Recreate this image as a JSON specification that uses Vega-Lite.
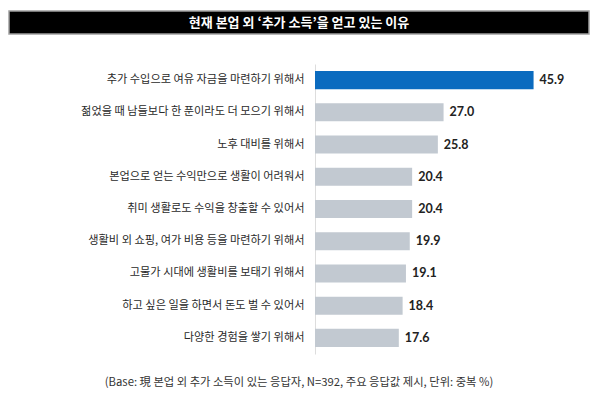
{
  "$schema": "https://vega.github.io/schema/vega-lite/v6.json",
  "padding": {"left": 8, "top": 10, "right": 5, "bottom": 5},
  "background": "white",
  "title": {
    "text": "(Base: 現 본업 외 추가 소득이 있는 응답자, N=392, 주요 응답값 제시, 단위: 중복 %)",
    "orient": "bottom",
    "anchor": "middle",
    "frame": "bounds",
    "font": "Noto Sans CJK KR",
    "fontSize": 11.3,
    "fontWeight": "normal",
    "color": "#333333",
    "offset": 23
  },
  "config": {"view": {"stroke": null}},
  "vconcat": [
    {
      "width": 580,
      "height": 23,
      "view": {"fill": "#000000", "stroke": "#a0a0a0", "strokeWidth": 1.5},
      "data": {"values": [{"t": "현재 본업 외 ‘추가 소득’을 얻고 있는 이유"}]},
      "mark": {"type": "text", "color": "white", "font": "Noto Sans CJK KR", "fontSize": 13, "fontWeight": "bold", "baseline": "middle", "align": "center"},
      "encoding": {"text": {"field": "t"}}
    },
    {
      "width": 580,
      "height": 290,
      "data": {"values": [
        {"reason": "추가 수입으로 여유 자금을 마련하기 위해서", "pct": 45.9, "group": "top"},
        {"reason": "젊었을 때 남들보다 한 푼이라도 더 모으기 위해서", "pct": 27.0, "group": "other"},
        {"reason": "노후 대비를 위해서", "pct": 25.8, "group": "other"},
        {"reason": "본업으로 얻는 수익만으로 생활이 어려워서", "pct": 20.4, "group": "other"},
        {"reason": "취미 생활로도 수익을 창출할 수 있어서", "pct": 20.4, "group": "other"},
        {"reason": "생활비 외 쇼핑, 여가 비용 등을 마련하기 위해서", "pct": 19.9, "group": "other"},
        {"reason": "고물가 시대에 생활비를 보태기 위해서", "pct": 19.1, "group": "other"},
        {"reason": "하고 싶은 일을 하면서 돈도 벌 수 있어서", "pct": 18.4, "group": "other"},
        {"reason": "다양한 경험을 쌓기 위해서", "pct": 17.6, "group": "other"}
      ]},
      "encoding": {
        "y": {
          "field": "reason", "type": "nominal", "sort": null,
          "scale": {"paddingInner": 0.44, "paddingOuter": 0.22},
          "axis": {
            "title": null, "ticks": false, "labelPadding": 11, "offset": -306,
            "labelFont": "Noto Sans CJK KR", "labelFontSize": 11.2, "labelColor": "#2a2a2a",
            "domainColor": "#dddddd", "domainWidth": 1,
            "labelLimit": 400
          }
        },
        "x": {
          "field": "pct", "type": "quantitative",
          "scale": {"domain": [-64.26, 57.54], "nice": false, "zero": false},
          "axis": null
        }
      },
      "layer": [
        {
          "mark": {"type": "bar"},
          "encoding": {
            "color": {
              "field": "group", "type": "nominal",
              "scale": {"domain": ["top", "other"], "range": ["#0b6bbf", "#c2c9d1"]},
              "legend": null
            }
          }
        },
        {
          "mark": {"type": "text", "align": "left", "baseline": "middle", "dx": 6, "font": "Lato", "fontWeight": "bold", "fontSize": 12.5, "color": "#222222"},
          "encoding": {"text": {"field": "pct", "type": "quantitative", "format": ".1f"}}
        }
      ]
    }
  ],
  "spacing": 29
}
